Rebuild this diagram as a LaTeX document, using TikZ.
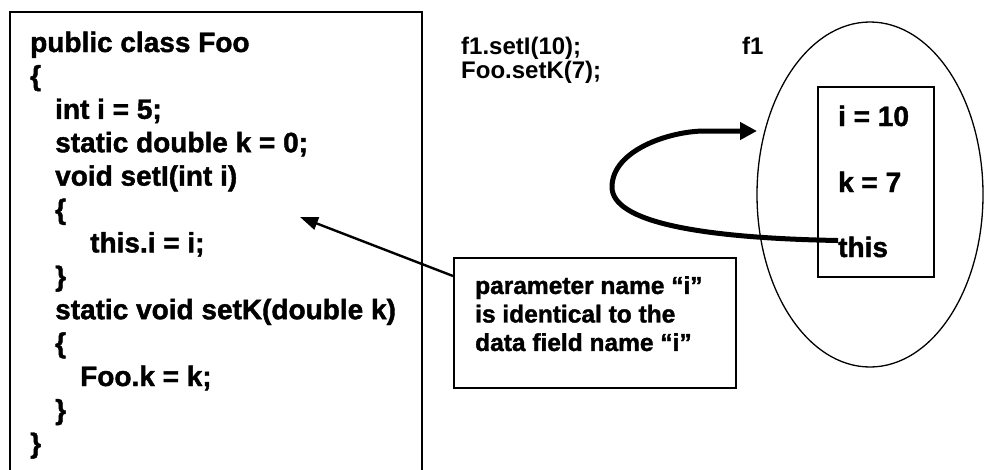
\documentclass[tikz,border=0pt]{standalone}
\usepackage{fontspec}
\setmainfont{Liberation Sans}
\newfontfamily\heavy{Liberation Sans Bold}[FakeBold=1.5]
\usetikzlibrary{positioning,arrows.meta,shapes.geometric}
\tikzset{
  code/.style={anchor=base west, inner sep=0pt, font=\heavy\fontsize{28}{33}\selectfont},
  call/.style={anchor=base west, inner sep=0pt, font=\bfseries\fontsize{24}{24}\selectfont},
  notetext/.style={anchor=north west, inner sep=0pt, align=left, font=\heavy\fontsize{24.5}{28.5}\selectfont},
  frame/.style={draw, line width=1.6pt, inner sep=0pt},
  pointer/.style={line width=2.4pt, -{Triangle[length=18pt,width=13pt]}},
  loopback/.style={line width=5pt, -{Triangle[length=17pt,width=17pt]}},
}
\begin{document}
\begin{tikzpicture}[x=1pt,y=-1pt]
\useasboundingbox (0,0) rectangle (985,469);
% class Foo
\draw[line width=1.6pt] (10,480) -- (10,12) -- (422,12) -- (422,480);
\node[code] (cls) at (30,52) {public class Foo};
\node[code] (open) at (30,85.4) {\{};
\node[code] (fieldi) at (55,118.8) {int i = 5;};
\node[code] (fieldk) at (55,152.2) {static double k = 0;};
\node[code] (seti) at (55,185.6) {void setI(int i)};
\node[code] (openi) at (55,219) {\{};
\node[code] (bodyi) at (90,252.4) {this.i = i;};
\node[code] (closei) at (55,285.8) {\}};
\node[code] (setk) at (55,319.2) {static void setK(double k)};
\node[code] (openk) at (55,352.6) {\{};
\node[code] (bodyk) at (80,386) {Foo.k = k;};
\node[code] (closek) at (55,419.4) {\}};
\node[code] (close) at (30,452.8) {\}};

% calls
\node[call] (calli) at (461,54) {f1.setI(10);};
\node[call] (callk) at (461,78) {Foo.setK(7);};
\node[call] (ref) at (742,54) {f1};

% object f1
\node[ellipse, draw, line width=1.3pt, minimum width=226, minimum height=345, inner sep=0pt] (obj) at (870,194.5) {};
\node[frame, minimum width=116, minimum height=190, anchor=north west] (fields) at (817,86) {};
\node[code] (vali) at (838,126) {i = 10};
\node[code] (valk) at (838,192) {k = 7};
\node[code] (valthis) at (838,257) {this};
\coordinate (entry) at (757,131);
\draw[loopback] ([yshift=-4pt]valthis.north west) .. controls (700,238) and (612,222) .. (612,187)
  .. controls (612,150) and (670,131) .. (705,131) -- (entry);

% note
\node[frame, minimum width=282, minimum height=130, anchor=north west] (note) at (453,257) {};
\node[notetext] (notetxt) at ([xshift=22pt,yshift=-19pt]note.north west)
  {parameter name “i”\\is identical to the\\data field name “i”};
\coordinate (tipi) at (300,217);
\draw[pointer] ([yshift=-19pt]note.north west) -- (tipi);
\end{tikzpicture}
\end{document}
